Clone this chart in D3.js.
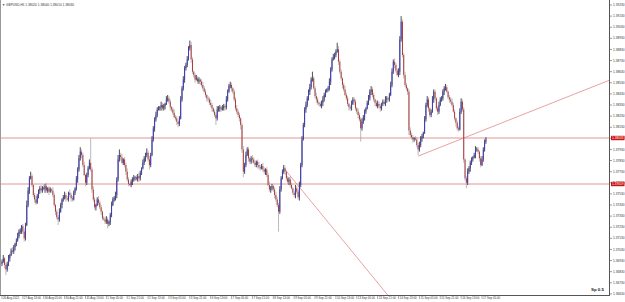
<!DOCTYPE html>
<html>
<head>
<meta charset="utf-8">
<script src="https://cdn.jsdelivr.net/npm/d3@7"></script>
<style>
    body { margin: 0; background: #ffffff; }
    svg { display: block; font-family: "Liberation Sans", Arial, sans-serif; }
</style>
</head>
<body>
<svg id="chart" width="625" height="302"></svg>
<script>
//GBPUSD H1 closes.
var firstOpen = 1.3690;
var closes = [
1.3692,1.3695,1.3689,1.3685,1.3690,1.3695,1.3698,1.3702,1.3701,1.3705,
1.3708,1.3711,1.3715,1.3719,1.3720,1.3724,1.3719,1.3713,1.3725,1.3743,
1.3756,1.3767,1.3769,1.3761,1.3752,1.3748,1.3745,1.3751,1.3756,1.3758,
1.3756,1.3759,1.3757,1.3760,1.3756,1.3758,1.3755,1.3757,1.3756,1.3752,
1.3743,1.3737,1.3732,1.3730,1.3737,1.3743,1.3748,1.3750,1.3752,1.3749,
1.3748,1.3754,1.3752,1.3749,1.3748,1.3754,1.3758,1.3766,1.3775,1.3785,
1.3791,1.3788,1.3779,1.3770,1.3763,1.3770,1.3776,1.3781,1.3775,1.3757,
1.3748,1.3741,1.3743,1.3748,1.3745,1.3741,1.3737,1.3731,1.3730,1.3728,
1.3730,1.3726,1.3728,1.3734,1.3743,1.3748,1.3749,1.3752,1.3766,1.3784,
1.3788,1.3786,1.3781,1.3784,1.3779,1.3773,1.3766,1.3762,1.3761,1.3764,
1.3766,1.3767,1.3768,1.3766,1.3769,1.3767,1.3772,1.3776,1.3781,1.3785,
1.3788,1.3790,1.3784,1.3779,1.3788,1.3802,1.3812,1.3820,1.3824,1.3829,
1.3830,1.3831,1.3833,1.3830,1.3832,1.3834,1.3838,1.3839,1.3836,1.3831,
1.3829,1.3826,1.3822,1.3821,1.3818,1.3816,1.3821,1.3838,1.3848,1.3856,
1.3866,1.3869,1.3874,1.3884,1.3887,1.3874,1.3863,1.3860,1.3856,1.3857,
1.3854,1.3856,1.3854,1.3851,1.3848,1.3845,1.3842,1.3839,1.3838,1.3835,
1.3833,1.3830,1.3827,1.3824,1.3821,1.3829,1.3830,1.3831,1.3829,1.3830,
1.3832,1.3831,1.3838,1.3845,1.3850,1.3851,1.3848,1.3845,1.3838,1.3830,
1.3827,1.3824,1.3821,1.3815,1.3793,1.3773,1.3779,1.3788,1.3793,1.3785,
1.3782,1.3785,1.3784,1.3781,1.3779,1.3782,1.3779,1.3777,1.3776,1.3778,
1.3775,1.3773,1.3775,1.3770,1.3761,1.3757,1.3758,1.3760,1.3757,1.3752,
1.3748,1.3743,1.3737,1.3757,1.3767,1.3773,1.3776,1.3773,1.3767,1.3764,
1.3766,1.3761,1.3758,1.3754,1.3752,1.3758,1.3755,1.3750,1.3761,1.3779,
1.3802,1.3815,1.3829,1.3833,1.3839,1.3845,1.3849,1.3856,1.3857,1.3848,
1.3841,1.3838,1.3835,1.3834,1.3832,1.3835,1.3838,1.3842,1.3845,1.3847,
1.3848,1.3854,1.3865,1.3874,1.3876,1.3878,1.3881,1.3883,1.3872,1.3863,
1.3857,1.3851,1.3847,1.3842,1.3839,1.3834,1.3831,1.3830,1.3834,1.3838,
1.3836,1.3830,1.3827,1.3824,1.3820,1.3812,1.3818,1.3822,1.3827,1.3830,
1.3835,1.3839,1.3845,1.3847,1.3842,1.3838,1.3835,1.3832,1.3834,1.3832,
1.3830,1.3834,1.3836,1.3834,1.3838,1.3839,1.3838,1.3842,1.3851,1.3863,
1.3872,1.3869,1.3864,1.3860,1.3863,1.3892,1.3908,1.3878,1.3860,1.3851,
1.3848,1.3845,1.3810,1.3806,1.3804,1.3802,1.3803,1.3802,1.3797,1.3793,
1.3797,1.3803,1.3805,1.3808,1.3820,1.3833,1.3838,1.3830,1.3824,1.3827,
1.3838,1.3845,1.3839,1.3830,1.3827,1.3833,1.3838,1.3839,1.3845,1.3848,
1.3849,1.3845,1.3840,1.3838,1.3836,1.3833,1.3827,1.3821,1.3817,1.3812,
1.3811,1.3827,1.3836,1.3829,1.3784,1.3767,1.3763,1.3773,1.3776,1.3781,
1.3784,1.3786,1.3788,1.3793,1.3793,1.3791,1.3785,1.3779,1.3784,1.3793,
1.3800,1.3802
];

//Upper and lower shadows in pips beyond the candle body.
var upWick = [
2,3,1,2,2,3,1,2,3,2,1,2,3,2,2,1,2,3,2,4,
3,2,4,2,1,2,3,2,1,2,3,1,2,2,3,1,2,2,1,3,
2,1,2,2,3,2,1,2,3,2,2,1,3,2,2,2,1,3,2,3,
4,2,2,3,1,2,2,3,22,2,3,2,1,2,3,2,2,1,2,2,
3,2,1,2,3,2,2,3,2,4,5,2,3,1,2,2,3,2,1,2,
2,3,1,2,2,3,2,1,3,2,2,4,2,3,2,3,2,2,3,2,
2,1,3,2,2,1,3,3,2,2,1,2,3,2,2,1,2,3,2,3,
2,2,3,2,4,3,2,1,2,3,2,2,1,2,3,2,2,1,2,2,
3,2,1,2,2,3,2,2,1,3,2,2,3,2,2,3,2,1,2,2,
3,2,2,1,2,3,2,3,2,2,1,2,3,2,2,1,2,3,2,2,
3,2,1,2,2,3,2,2,1,2,3,2,2,3,2,2,3,2,1,2,
2,3,2,1,2,3,2,2,3,2,3,2,2,3,2,2,3,2,6,2,
2,3,2,1,2,2,3,2,2,1,2,3,2,2,3,2,2,6,3,2,
2,1,2,3,2,2,1,2,3,2,2,2,1,3,2,2,3,2,2,1,
2,3,2,3,2,2,1,2,3,2,2,1,2,2,3,2,1,2,3,3,
2,3,2,2,3,3,5,2,2,3,2,1,2,3,2,2,1,2,2,2,
3,2,2,1,3,2,3,2,1,2,3,2,2,1,2,3,2,2,2,2,
3,2,1,2,2,3,2,2,1,2,2,3,3,2,2,1,2,3,2,2,
2,1,2,3,2,2,1,2,3,2,2,2
];
var loWick = [
2,1,3,5,2,2,3,1,2,2,3,2,1,2,2,3,2,3,2,1,
2,3,1,2,2,3,2,1,2,3,2,2,1,3,2,2,3,1,2,2,
2,3,2,5,2,1,3,2,2,3,1,2,2,3,2,1,2,2,3,2,
2,3,2,1,3,2,2,1,2,3,2,2,3,1,2,2,3,2,1,2,
2,4,2,3,2,1,2,2,3,2,2,3,1,2,2,3,2,2,1,2,
3,2,2,1,2,3,2,2,1,2,3,2,2,4,2,1,2,3,2,2,
1,2,3,2,2,3,1,2,2,3,2,2,1,2,3,3,2,1,2,2,
3,2,2,1,2,3,2,2,3,1,2,2,3,2,2,1,2,3,2,2,
2,3,1,2,6,2,2,3,2,1,2,3,2,2,1,2,3,2,2,2,
2,2,3,4,3,5,2,2,1,3,2,2,3,1,2,2,3,2,2,1,
2,2,3,2,1,2,3,2,2,3,2,2,18,2,2,1,2,3,2,2,
3,2,1,2,2,3,2,2,3,2,2,1,2,3,2,2,3,2,2,1,
2,3,2,2,1,2,3,2,2,1,2,2,3,2,1,2,2,1,3,2,
2,3,2,1,2,2,3,2,2,1,3,2,2,3,2,12,2,2,3,2,
1,2,2,3,2,2,3,1,2,2,3,2,2,1,2,3,2,2,1,2,
2,3,2,1,2,3,2,2,3,2,2,3,4,2,2,3,2,1,2,5,
2,2,3,2,1,2,2,3,2,2,1,3,2,2,3,2,1,2,2,3,
2,1,2,3,2,2,1,2,3,2,2,1,2,2,3,2,5,2,2,3,
2,2,1,3,2,2,3,2,1,2,2,2
];

//Time scale labels and the bar they sit on.
var timeBars = [0,16,32,48,64,80,96,112,128,144,160,176,192,208,224,240,256,272,288,304,320,336,352,368];
var timeLabels = ["26 Aug 2021","27 Aug 13:00","30 Aug 05:00","30 Aug 21:00","31 Aug 13:00","1 Sep 05:00",
    "1 Sep 21:00","2 Sep 13:00","3 Sep 05:00","3 Sep 21:00","6 Sep 13:00","7 Sep 05:00","7 Sep 21:00",
    "8 Sep 13:00","9 Sep 05:00","9 Sep 21:00","10 Sep 13:00","13 Sep 05:00","13 Sep 21:00","14 Sep 13:00",
    "15 Sep 05:00","15 Sep 21:00","16 Sep 13:00","17 Sep 05:00"];

//Price scale labels.
var priceTicks = [1.3923,1.3913,1.3903,1.3893,1.3883,1.3873,1.3863,1.3853,1.3843,1.3833,1.3823,1.3813,1.3803,
    1.3793,1.3783,1.3773,1.3763,1.3753,1.3743,1.3733,1.3723,1.3713,1.3703,1.3693,1.3683,1.3673,1.3663];

//Drawn objects: horizontal lines and two trend lines (bar index, price).
var hLines = [1.38033, 1.37619];
var trendDown = [[215.5, 1.3777], [295, 1.3663]];
var trendUp = [[319, 1.3787], [465, 1.3855]];

var header = "\u25BC GBPUSD,H1  1.38020 1.38040 1.38010 1.38030";

var plotRight = 609, plotBottom = 295;

drawChart();

//Draws the whole terminal window: candles, objects, scales.
function drawChart() {
    var svg = d3.select("#chart");
    var x = d3.scaleLinear().domain([0, 368]).range([2, 482]);
    var y = d3.scaleLinear().domain([1.39275, 1.36575]).range([0, 300]);
    var pip = 0.0001;

    svg.append("defs").append("clipPath").attr("id", "plotClip")
        .append("rect").attr("x", 0).attr("y", 0).attr("width", plotRight).attr("height", plotBottom);

    var bars = closes.map(function(c, i) {
        var o = i == 0 ? firstOpen : closes[i - 1];
        return {
            i: i, o: o, c: c,
            h: Math.max(o, c) + (upWick[i] || 0) * pip,
            l: Math.min(o, c) - (loWick[i] || 0) * pip
        };
    });

    var plot = svg.append("g").attr("clip-path", "url(#plotClip)");

    //horizontal lines first so the candles stay on top
    plot.selectAll(".hline").data(hLines).enter().append("line")
        .attr("x1", 0).attr("x2", plotRight)
        .attr("y1", function(d) { return y(d); }).attr("y2", function(d) { return y(d); })
        .attr("stroke", "#e07a7a").attr("stroke-width", 0.8);

    [trendDown, trendUp].forEach(function(t) {
        //extend the ray to the right edge of the chart
        var slope = (t[1][1] - t[0][1]) / (t[1][0] - t[0][0]);
        var endBar = x.invert(plotRight + 5);
        plot.append("line")
            .attr("x1", x(t[0][0])).attr("y1", y(t[0][1]))
            .attr("x2", x(endBar)).attr("y2", y(t[0][1] + slope * (endBar - t[0][0])))
            .attr("stroke", "#e07a7a").attr("stroke-width", 0.7);
    });

    var candle = plot.selectAll(".bar").data(bars).enter().append("g");
    candle.append("line")
        .attr("x1", function(d) { return x(d.i); }).attr("x2", function(d) { return x(d.i); })
        .attr("y1", function(d) { return y(d.h); }).attr("y2", function(d) { return y(d.l); })
        .attr("stroke", function(d) { return d.c >= d.o ? "#222222" : "#a8a8a8"; })
        .attr("stroke-width", 0.8);
    candle.append("rect")
        .attr("x", function(d) { return x(d.i) - 0.45; })
        .attr("width", 0.9)
        .attr("y", function(d) { return y(Math.max(d.o, d.c)); })
        .attr("height", function(d) { return Math.max(0.6, Math.abs(y(d.o) - y(d.c))); })
        .attr("fill", function(d) { return d.c >= d.o ? "#3a3ad0" : "#b02c2c"; });

    //frame
    svg.append("line").attr("x1", 0.5).attr("x2", 0.5).attr("y1", 0).attr("y2", plotBottom)
        .attr("stroke", "#9a9a9a").attr("stroke-width", 1);
    svg.append("line").attr("x1", plotRight + 0.5).attr("x2", plotRight + 0.5).attr("y1", 0).attr("y2", plotBottom)
        .attr("stroke", "#555").attr("stroke-width", 1);
    svg.append("line").attr("x1", 0).attr("x2", plotRight + 1).attr("y1", plotBottom + 0.5).attr("y2", plotBottom + 0.5)
        .attr("stroke", "#555").attr("stroke-width", 1);

    //price scale
    var py = svg.append("g").attr("transform", "translate(" + (plotRight + 1) + ",0)");
    var pt = py.selectAll(".pt").data(priceTicks).enter().append("g")
        .attr("transform", function(d) { return "translate(0," + y(d) + ")"; });
    pt.append("line").attr("x1", 0).attr("x2", 2).attr("stroke", "#555").attr("stroke-width", 0.6);
    pt.append("text").attr("x", 3).attr("dy", "0.35em")
        .attr("font-size", 3.2).attr("fill", "#333").text(function(d) { return d.toFixed(5); });

    //price labels of the horizontal lines
    var hl = py.selectAll(".hl").data(hLines).enter().append("g")
        .attr("transform", function(d) { return "translate(0," + y(d) + ")"; });
    hl.append("rect").attr("x", 1).attr("y", -2.2).attr("width", 13.5).attr("height", 4.4).attr("fill", "#c81414");
    hl.append("text").attr("x", 2).attr("dy", "0.35em").attr("font-size", 3.2).attr("fill", "#fff")
        .text(function(d) { return d.toFixed(5); });

    //time scale
    var tg = svg.selectAll(".tt").data(timeBars).enter().append("g")
        .attr("transform", function(d) { return "translate(" + x(d) + "," + plotBottom + ")"; });
    tg.append("line").attr("y1", 1).attr("y2", 4).attr("stroke", "#555").attr("stroke-width", 0.5);
    tg.append("text").attr("x", 1).attr("y", 4.3).attr("font-size", 2.9).attr("fill", "#333")
        .text(function(d, i) { return timeLabels[i]; });

    svg.append("text").attr("x", 2).attr("y", 5.5).attr("font-size", 3.2).attr("fill", "#333").text(header);
    svg.append("text").attr("x", 591).attr("y", 291).attr("font-size", 4.4).attr("font-weight", "bold")
        .attr("fill", "#222").text("Sp 0.5");
}
</script>
</body>
</html>
